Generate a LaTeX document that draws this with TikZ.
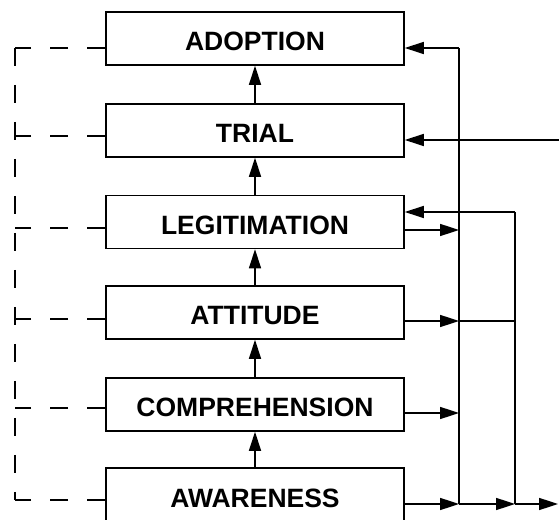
\documentclass[tikz,border=0pt]{standalone}
\usepackage{fontspec}
\setmainfont{Liberation Sans}
\usetikzlibrary{arrows.meta}

\begin{document}
\begin{tikzpicture}[x=1pt,y=1pt,>={Triangle[length=19pt,width=12pt]},line width=1.6pt,
 stage/.style={draw,line width=1.6pt,minimum width=298pt,minimum height=53pt,inner sep=0pt,text height=25pt,text depth=0pt,font=\fontsize{26.5}{30}\selectfont\bfseries},
 loop/.style={line width=1.4pt,dash pattern=on 18pt off 19pt}]
\clip (0,0) rectangle (559,519);
\node[stage] (adopt) at (255,480.5) {ADOPTION};
\node[stage] (trial) at (255,388.5) {TRIAL};
\node[stage] (legit) at (255,297) {LEGITIMATION};
\node[stage] (att) at (255,206.5) {ATTITUDE};
\node[stage] (comp) at (255,114.5) {COMPREHENSION};
\node[stage] (aware) at (255,24.5) {AWARENESS};
% upward chain
\draw[->] (aware)--(comp);
\draw[->] (comp)--(att);
\draw[->] (att)--(legit);
\draw[->] (legit)--(trial);
\draw[->] (trial)--(adopt);
% right-hand buses
\coordinate (busA) at (459,471);
\coordinate (busB) at (459,15);
\coordinate (busC) at (515,307);
\coordinate (busD) at (515,15);
\coordinate (feed) at (559,379);
\coordinate (outend) at (558,15);
\coordinate (legout) at (459,289);
\coordinate (attout) at (459,198);
\coordinate (compout) at (459,106);
\draw (busA)--(busB);
\draw (busC)--(busD);
\draw[->] (busA)--(adopt.east |- busA);
\draw[->] (feed)--(trial.east |- feed);
\draw[->] (busC)--(legit.east |- busC);
\draw[->] (legit.east |- legout)--(legout);
\draw[->] (att.east |- attout)--(attout);
\draw (attout)--(busC |- attout);
\draw[->] (comp.east |- compout)--(compout);
\draw[->] (aware.east |- busB)--(busB);
\draw[->] (busB)--(busD);
\draw[->] (busD)--(outend);
% dashed feedback on the left
\coordinate (fbtop) at (15,471);
\coordinate (fbbot) at (15,19);
\draw[loop] (fbtop)--(fbbot);
\foreach \b/\y in {adopt/471,trial/383,legit/291,att/200,comp/111,aware/19}{
 \coordinate (l\b) at (15,\y);
 \draw[loop] (\b.west |- l\b)--(l\b);
}
\end{tikzpicture}
\end{document}
